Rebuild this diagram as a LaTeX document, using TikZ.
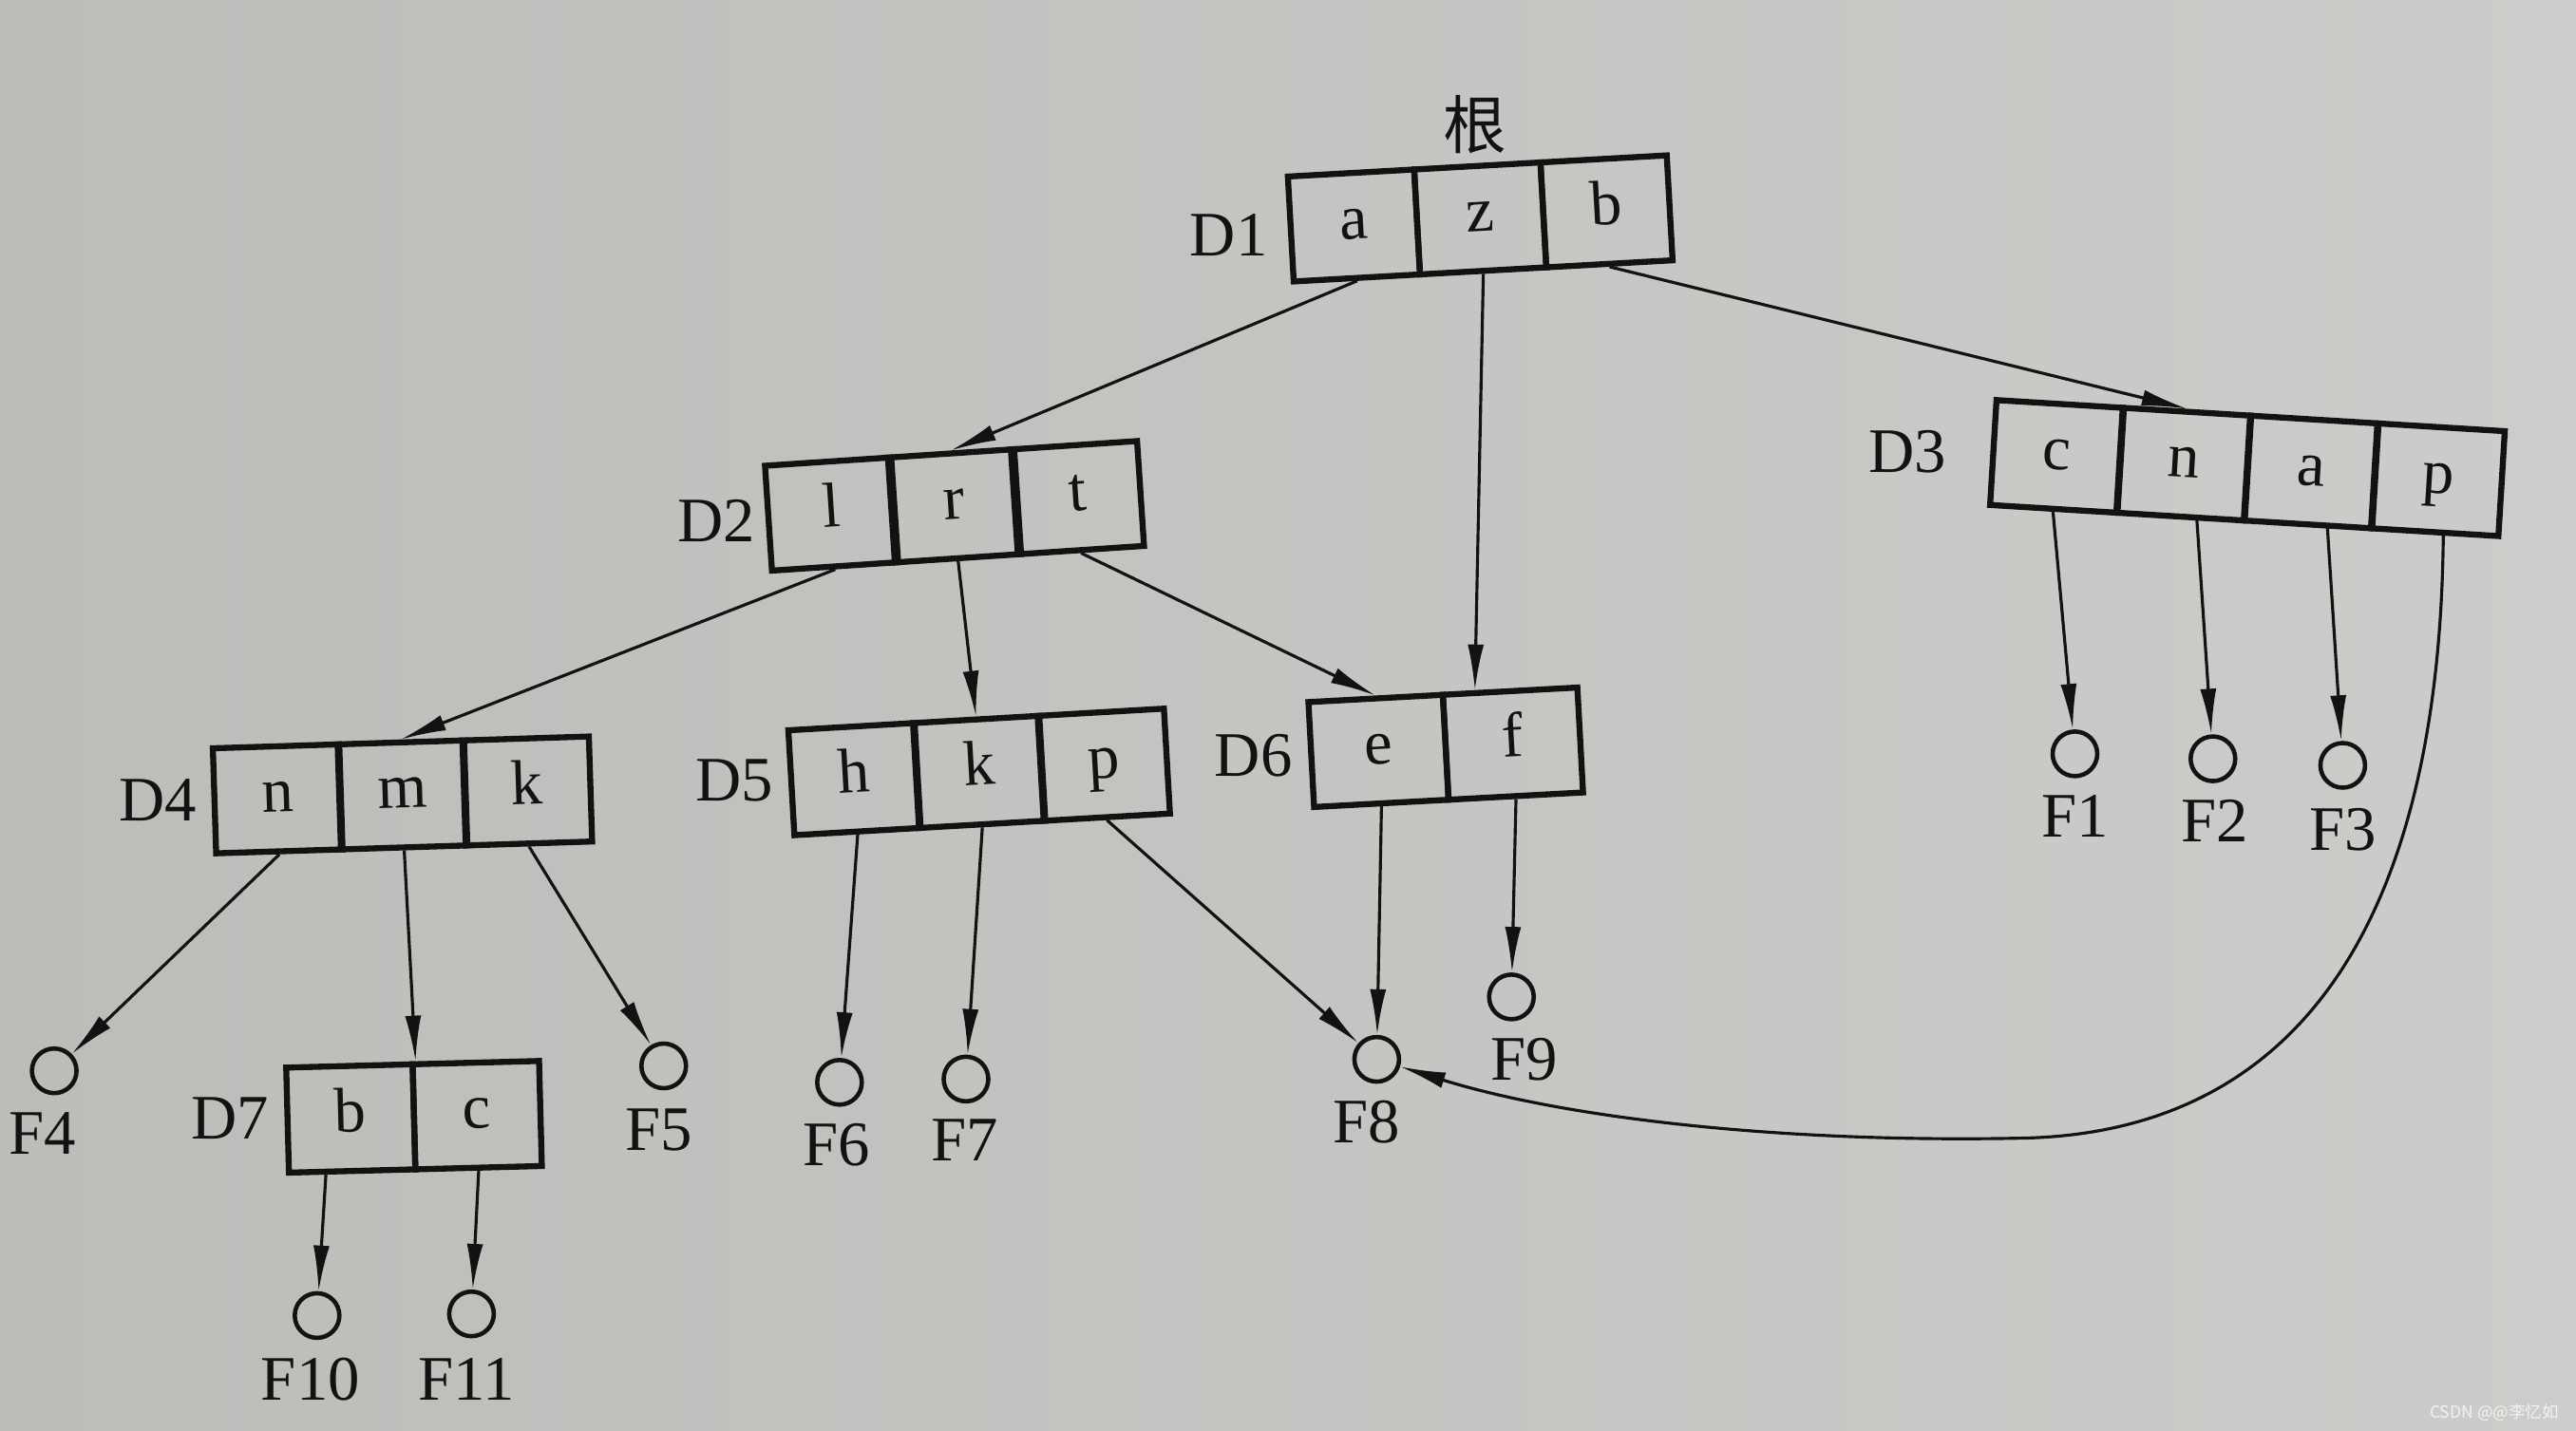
\documentclass[tikz,border=0pt]{standalone}
\usepackage{fontspec}
\setmainfont{Liberation Serif}
\newfontfamily\cjkfont{Noto Sans CJK SC}
\usetikzlibrary{arrows.meta,calc}
\definecolor{ink}{RGB}{18,18,18}
\definecolor{bgl}{RGB}{188,188,185}
\definecolor{bgr}{RGB}{204,204,202}
\begin{document}
\begin{tikzpicture}[x=0.017296cm,y=-0.017296cm,
  cell/.style={draw=ink, line width=1.8pt, minimum width=1.332cm, minimum height=1.107cm,
    inner sep=0pt, transform shape, text=ink, text height=1.0em, text depth=0.2em,
    font=\fontsize{19}{21}\selectfont},
  wcell/.style={cell, minimum width=1.418cm},
  file/.style={circle, draw=ink, line width=1.3pt, minimum size=0.47cm, inner sep=0pt},
  lbl/.style={text=ink, inner sep=0pt, font=\fontsize{19}{21}\selectfont},
  arr/.style={draw=ink, line width=0.9pt, -{Latex[length=4.8mm,width=1.7mm]}},
]
\shade[left color=bgl, right color=bgr] (0,0) rectangle (1568,871);
\useasboundingbox (0,0) rectangle (1568,871);

% directory boxes
\begin{scope}[shift={(901,133)}, rotate=3.2]
  \node[cell] (D1a) at (-77,0) {a};
  \node[cell] (D1z) at (0,0) {z};
  \node[cell] (D1b) at (77,0) {b};
\end{scope}
\begin{scope}[shift={(581,308)}, rotate=3.8]
  \node[cell] (D2l) at (-75,0) {l};
  \node[cell] (D2r) at (0,0) {r};
  \node[cell] (D2t) at (75,0) {t};
\end{scope}
\begin{scope}[shift={(1368,285)}, rotate=-3.5]
  \node[cell] (D3c) at (-116.5,0) {c};
  \node[cell] (D3n) at (-38.8,0) {n};
  \node[cell] (D3a) at (38.8,0) {a};
  \node[cell] (D3p) at (116.5,0) {p};
\end{scope}
\begin{scope}[shift={(245,484)}, rotate=1.8]
  \node[cell] (D4n) at (-76,0) {n};
  \node[cell] (D4m) at (0,0) {m};
  \node[cell] (D4k) at (76,0) {k};
\end{scope}
\begin{scope}[shift={(596,470)}, rotate=3.3]
  \node[cell] (D5h) at (-76,0) {h};
  \node[cell] (D5k) at (0,0) {k};
  \node[cell] (D5p) at (76,0) {p};
\end{scope}
\begin{scope}[shift={(880,455)}, rotate=3.1]
  \node[wcell] (D6e) at (-41,0) {e};
  \node[wcell] (D6f) at (41,0) {f};
\end{scope}
\begin{scope}[shift={(252,680)}, rotate=1.5]
  \node[cell] (D7b) at (-38.5,0) {b};
  \node[cell] (D7c) at (38.5,0) {c};
\end{scope}

% box labels
\node[lbl, font=\cjkfont\fontsize{19}{21}\selectfont] (root) at (898,76) {根};
\node[lbl] (LD1) at (748,143) {D1};
\node[lbl] (LD2) at (436,317) {D2};
\node[lbl] (LD3) at (1161,275) {D3};
\node[lbl] (LD4) at (96,487) {D4};
\node[lbl] (LD5) at (447,475) {D5};
\node[lbl] (LD6) at (763,460) {D6};
\node[lbl] (LD7) at (140,681) {D7};

% files
\node[file] (F1) at (1263,459) {};
\node[file] (F2) at (1347,462) {};
\node[file] (F3) at (1426,466) {};
\node[file] (F4) at (33,652) {};
\node[file] (F5) at (404,649) {};
\node[file] (F6) at (511,659) {};
\node[file] (F7) at (588,657) {};
\node[file] (F8) at (838,645) {};
\node[file] (F9) at (920,607) {};
\node[file] (F10) at (193,801) {};
\node[file] (F11) at (287,800) {};

\node[lbl] (LF1) at (1263,497) {F1};
\node[lbl] (LF2) at (1348,500) {F2};
\node[lbl] (LF3) at (1426,505) {F3};
\node[lbl] (LF4) at (26,690) {F4};
\node[lbl] (LF5) at (401,688) {F5};
\node[lbl] (LF6) at (509,697) {F6};
\node[lbl] (LF7) at (587,694) {F7};
\node[lbl] (LF8) at (832,683) {F8};
\node[lbl] (LF9) at (928,645) {F9};
\node[lbl] (LF10) at (189,840) {F10};
\node[lbl] (LF11) at (284,840) {F11};

% connectors
\draw[arr] (D1a.south) -- (D2r.north);
\draw[arr] (D1z.south) -- ($(D6f.north west)!0.25!(D6f.north east)$);
\draw[arr] (D1b.south) -- (D3n.north);
\draw[arr] (D2l.south) -- (D4m.north);
\draw[arr] (D2r.south) -- (D5k.north);
\draw[arr] (D2t.south) -- (D6e.north);
\draw[arr] (D3c.south) -- (F1);
\draw[arr] ($(D3n.south)+(10,0)$) -- (F2);
\draw[arr] ($(D3a.south)+(12,0)$) -- (F3);
\draw[arr] ($(D3p.south)+(5,0)$) .. controls (1485,560) and (1400,690) .. (1230,693)
  .. controls (1080,696) and (950,680) .. (F8);
\draw[arr] (D4n.south) -- (F4);
\draw[arr] (D4m.south) -- (D7b.north east);
\draw[arr] (D4k.south) -- (F5);
\draw[arr] (D5h.south) -- (F6);
\draw[arr] (D5k.south) -- (F7);
\draw[arr] (D5p.south) -- (F8);
\draw[arr] (D6e.south) -- (F8);
\draw[arr] (D6f.south) -- (F9);
\draw[arr] ($(D7b.south)+(-16,0)$) -- (F10);
\draw[arr] (D7c.south) -- (F11);

% watermark
\node[inner sep=0pt, anchor=east, text=white!90!gray, font=\cjkfont\fontsize{5}{6}\selectfont] (wm) at (1558,860) {CSDN @@李忆如};
\end{tikzpicture}
\end{document}
